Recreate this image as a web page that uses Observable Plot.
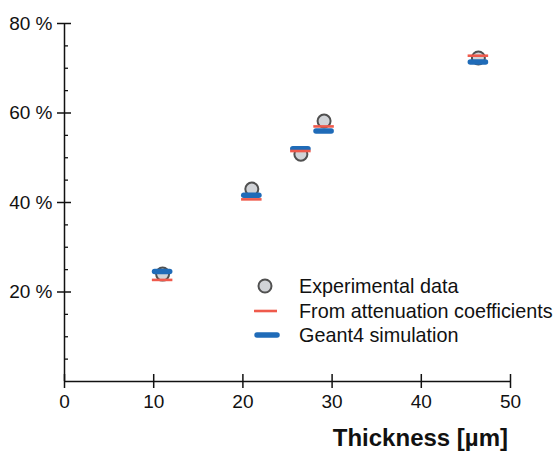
<!DOCTYPE html>
<html>
<head>
<meta charset="utf-8">
<script src="https://cdn.jsdelivr.net/npm/d3@7"></script>
<script src="https://cdn.jsdelivr.net/npm/@observablehq/plot@0.6"></script>
<style>
  html, body { margin: 0; padding: 0; background: #fff; }
  #wrap { position: relative; width: 554px; height: 451px; overflow: hidden; font-family: "Liberation Sans", Arial, sans-serif; }
  #legend { position: absolute; left: 250px; top: 274px; font-size: 19.8px; color: #111; line-height: 24.5px; }
  #legend .row { display: flex; align-items: center; white-space: nowrap; }
  #legend svg { width: 49px; height: 24px; flex: none; }
  #xtitle { position: absolute; right: 46px; top: 424px; font-size: 24px; font-weight: bold; color: #111; }
</style>
</head>
<body>
<div id="wrap"></div>
<script>
// Data
const thickness    = [11.0, 21.0, 26.5, 29.1, 46.4];     // µm
const experimental = [24.0, 43.0, 50.8, 58.2, 72.3];     // %
const attenuation  = [22.7, 40.7, 51.5, 57.0, 72.8];     // %
const geant4       = [24.6, 41.6, 52.0, 56.0, 71.4];     // %
const yMajorTicks  = [20, 40, 60, 80];
const yMinorTicks  = [5, 10, 15, 25, 30, 35, 45, 50, 55, 65, 70, 75];
const xTicks       = [0, 10, 20, 30, 40, 50];
const seriesNames  = ["Experimental data", "From attenuation coefficients", "Geant4 simulation"];

const colRed = "#ef5a4c", colBlue = "#1f6bb8", colFill = "#d1d3d7", colStroke = "#505050";

const rows = thickness.map((t, i) => ({t, exp: experimental[i], att: attenuation[i], g4: geant4[i]}));

const halfRed = 1.15, halfBlue = 0.85;

const plot = Plot.plot({
  width: 554,
  height: 451,
  marginLeft: 64,
  marginRight: 44,
  marginTop: 23,
  marginBottom: 70,
  style: {fontFamily: "Liberation Sans, Arial, sans-serif", background: "#fff", color: "#111"},
  x: {domain: [0, 50], label: null},
  y: {domain: [0, 80], label: null},
  marks: [
    // axis lines
    Plot.ruleX([0], {y1: 0, y2: 80, stroke: "#111", strokeWidth: 1.5}),
    Plot.ruleY([0], {x1: 0, x2: 50, stroke: "#111", strokeWidth: 1.5}),
    // y major ticks (crossing the axis)
    Plot.axisY({ticks: yMajorTicks, text: null, tickSize: 14, dx: 7, stroke: "#111", strokeWidth: 1.5, label: null}),
    // y minor ticks (inside)
    Plot.axisY({ticks: yMinorTicks, text: null, tickSize: 4, dx: 4, stroke: "#111", strokeWidth: 1.3, label: null}),
    // y labels
    Plot.axisY({ticks: yMajorTicks, tickSize: 0, tickPadding: 12, tickFormat: d => d + " %", fontSize: 19, label: null}),
    // x ticks (crossing the axis)
    Plot.axisX({ticks: xTicks, text: null, tickSize: 14, dy: -7, stroke: "#111", strokeWidth: 1.5, label: null}),
    // x labels
    Plot.axisX({ticks: xTicks, tickSize: 0, tickPadding: 13, fontSize: 19, label: null}),
    // experimental circles
    Plot.dot(rows, {x: "t", y: "exp", r: 6.5, fill: colFill, stroke: colStroke, strokeWidth: 2}),
    // Geant4 bars
    Plot.ruleY(rows, {y: "g4", x1: d => d.t - halfBlue, x2: d => d.t + halfBlue, stroke: colBlue, strokeWidth: 5.5, strokeLinecap: "round"}),
    // attenuation lines
    Plot.ruleY(rows, {y: "att", x1: d => d.t - halfRed, x2: d => d.t + halfRed, stroke: colRed, strokeWidth: 2.6})
  ]
});

const wrap = document.getElementById("wrap");
wrap.appendChild(plot);

// legend
const legend = document.createElement("div");
legend.id = "legend";
const swatches = [
  `<svg viewBox="0 0 49 24"><circle cx="15" cy="12" r="6.5" fill="${colFill}" stroke="${colStroke}" stroke-width="2"/></svg>`,
  `<svg viewBox="0 0 49 24"><line x1="4" x2="27" y1="12" y2="12" stroke="${colRed}" stroke-width="2.6"/></svg>`,
  `<svg viewBox="0 0 49 24"><line x1="7" x2="27" y1="12" y2="12" stroke="${colBlue}" stroke-width="5.5" stroke-linecap="round"/></svg>`
];
legend.innerHTML = seriesNames.map((n, i) => `<div class="row">${swatches[i]}<span>${n}</span></div>`).join("");
wrap.appendChild(legend);

// x axis title
const xt = document.createElement("div");
xt.id = "xtitle";
xt.textContent = "Thickness [µm]";
wrap.appendChild(xt);
</script>
</body>
</html>
